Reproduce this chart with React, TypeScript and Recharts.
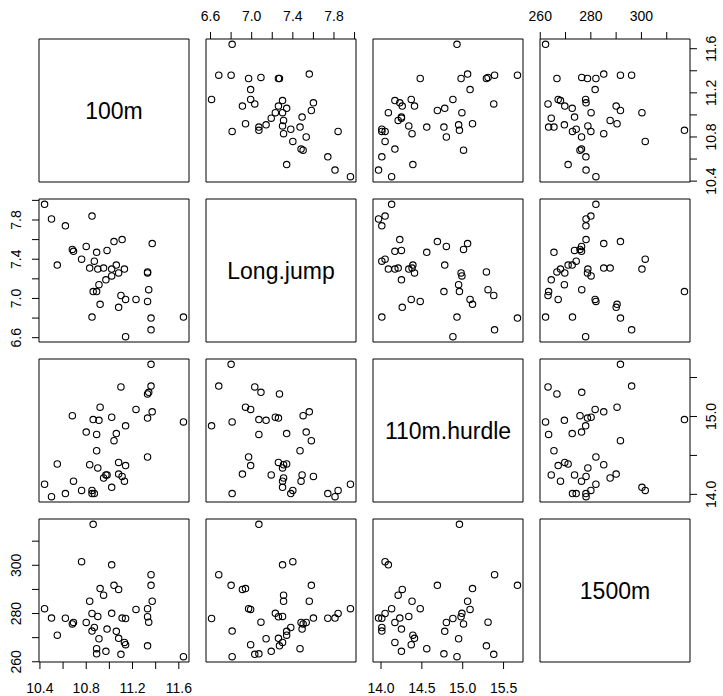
import React from "react";
import { ScatterChart, Scatter, XAxis, YAxis, ReferenceArea } from "recharts";

// decathlon athletes (41), values
const athletes = [
  "SEBRLE", "CLAY", "KARPOV", "BERNARD", "YURKOV", "WARNERS", "ZSIVOCZKY", "McMULLEN",
  "MARTINEAU", "HERNU", "BARRAS", "NOOL", "BOURGUIGNON", "Sebrle", "Clay", "Karpov",
  "Macey", "Warners", "Zsivoczky", "Hernu", "Nool", "Bernard", "Schwarzl", "Pogorelov",
  "Schoenbeck", "Barras", "Smith", "Averyanov", "Ojaniemi", "Smirnov", "Qi", "Drews",
  "Parkhomenko", "Terek", "Gomez", "Turi", "Lorenzo", "Karlivans", "Korkizoglou", "Uldal",
  "Casarsa",
];
const sprint100 = [
  11.04, 10.76, 11.02, 11.02, 11.34, 11.11, 11.13, 10.83, 11.64, 11.37, 11.33, 11.33,
  11.36, 10.85, 10.44, 10.5, 10.89, 10.62, 10.91, 10.97, 10.8, 10.69, 10.98, 10.95,
  10.9, 11.14, 10.85, 10.55, 10.68, 10.89, 11.06, 10.87, 11.14, 10.92, 11.08, 11.08,
  11.1, 11.33, 10.86, 11.23, 11.36,
];
const longJump = [
  7.58, 7.4, 7.3, 7.23, 7.09, 7.6, 7.3, 7.31, 6.81, 7.56, 6.97, 7.27,
  6.8, 7.84, 7.96, 7.81, 7.47, 7.74, 7.14, 7.19, 7.53, 7.48, 7.49, 7.31,
  7.3, 6.99, 6.81, 7.34, 7.5, 7.07, 7.34, 7.38, 6.61, 6.94, 7.26, 6.91,
  7.03, 7.26, 7.07, 6.99, 6.68,
];
const hurdle110 = [
  14.69, 14.05, 14.09, 14.99, 15.31, 14.23, 14.17, 14.38, 14.93, 15.06, 14.48, 15.29,
  15.67, 14.05, 14.13, 13.97, 14.56, 14.01, 14.95, 14.25, 14.8, 14.17, 14.25, 14.21,
  14.34, 14.37, 14.01, 14.39, 15.01, 14.77, 14.78, 14.01, 14.88, 15.12, 14.41, 14.26,
  15.38, 14.98, 14.96, 15.09, 15.39,
];
const run1500 = [
  291.7, 301.5, 300.2, 280.1, 276.4, 278.1, 268.0, 285.1, 262.1, 285.1, 282.0, 266.6,
  291.7, 280.01, 282.0, 278.11, 265.42, 278.05, 269.54, 264.35, 276.33, 276.31, 273.56, 287.63,
  278.82, 267.09, 272.74, 271.02, 275.71, 263.31, 272.63, 274.21, 277.94, 290.36, 269.7, 290.01,
  263.08, 278.67, 317.0, 281.7, 296.12,
];

const varNames = ["100m", "Long.jump", "110m.hurdle", "1500m"];

const ticks100 = [10.4, 10.6, 10.8, 11.0, 11.2, 11.4, 11.6];
const ticksLJ = [6.6, 6.8, 7.0, 7.2, 7.4, 7.6, 7.8, 8.0];
const ticksHurdle = [14.0, 14.5, 15.0, 15.5];
const ticks1500 = [260, 270, 280, 290, 300, 310];

const labels100 = [10.4, 10.8, 11.2, 11.6];
const labelsLJ = [6.6, 7.0, 7.4, 7.8];
const labelsHurdleBottom = [14.0, 14.5, 15.0, 15.5];
const labelsHurdleRight = [14.0, 15.0];
const labels1500 = [260, 280, 300];

// R-style range: data range extended 4% each side
function rRange(v: number[]): [number, number] {
  const lo = Math.min(...v);
  const hi = Math.max(...v);
  const pad = (hi - lo) * 0.04;
  return [lo - pad, hi + pad];
}

const vars = [
  { name: varNames[0], data: sprint100, ticks: ticks100, labA: labels100, labB: labels100, dec: 1 },
  { name: varNames[1], data: longJump, ticks: ticksLJ, labA: labelsLJ, labB: labelsLJ, dec: 1 },
  { name: varNames[2], data: hurdle110, ticks: ticksHurdle, labA: labelsHurdleBottom, labB: labelsHurdleRight, dec: 1 },
  { name: varNames[3], data: run1500, ticks: ticks1500, labA: labels1500, labB: labels1500, dec: 0 },
];

const PW = 150;
const PH = 143;
const M = 40;
const AX = 30;
const colX = [39, 206, 373, 540];
const rowY = [39, 199, 359, 519];
const FONT = "'Liberation Sans', Arial, Helvetica, sans-serif";

const has = (arr: number[], v: number) => arr.some((a) => Math.abs(a - v) < 1e-9);

function makeTick(side: string, labels: number[], dec: number) {
  return (props: any) => {
    const v = props.payload.value;
    if (!has(labels, v)) return <g />;
    let cx = props.x;
    let cy = props.y;
    let rot = false;
    if (side === "top") cy = M - 23;
    if (side === "bottom") cy = M + PH + 26;
    if (side === "left") { cx = M - 23; rot = true; }
    if (side === "right") { cx = M + PW + 21; rot = true; }
    return (
      <text
        x={cx}
        y={cy}
        textAnchor="middle"
        dominantBaseline="central"
        fontSize={14}
        fill="#000"
        transform={rot ? `rotate(-90 ${cx} ${cy})` : undefined}
      >
        {v.toFixed(dec)}
      </text>
    );
  };
}

const ring = (p: any) => (
  <circle cx={p.cx} cy={p.cy} r={3.2} fill="none" stroke="#000" strokeWidth={1.1} />
);

function Panel({ i, j }: { i: number; j: number }) {
  const xv = vars[j];
  const yv = vars[i];
  const xDom = rRange(xv.data);
  const yDom = rRange(yv.data);
  const diag = i === j;

  const showTop = i === 0 && j % 2 === 1;
  const showBottom = i === 3 && j % 2 === 0;
  const showLeft = j === 0 && i % 2 === 1;
  const showRight = j === 3 && i % 2 === 0;
  const showX = showTop || showBottom;
  const showY = showLeft || showRight;
  const xSide = showTop ? "top" : "bottom";
  const ySide = showRight ? "right" : "left";

  const margin = {
    top: xSide === "top" ? M - AX : M,
    bottom: xSide === "bottom" ? M - AX : M,
    left: ySide === "left" ? M - AX : M,
    right: ySide === "right" ? M - AX : M,
  };

  const pts = xv.data.map((_, k) => ({ x: xv.data[k], y: yv.data[k], name: athletes[k] }));

  return (
    <div style={{ position: "absolute", left: colX[j] - M, top: rowY[i] - M }}>
      <ScatterChart width={PW + 2 * M} height={PH + 2 * M} margin={margin}>
        <XAxis
          type="number"
          dataKey="x"
          domain={xDom}
          allowDataOverflow
          ticks={xv.ticks}
          interval={0}
          orientation={xSide as any}
          height={AX}
          axisLine={false}
          tickLine={showX ? { stroke: "#000", strokeWidth: 1 } : false}
          tickSize={7}
          tick={showX ? makeTick(xSide, xv.labA, xv.dec) : false}
        />
        <YAxis
          type="number"
          dataKey="y"
          domain={yDom}
          allowDataOverflow
          ticks={yv.ticks}
          interval={0}
          orientation={ySide as any}
          width={AX}
          axisLine={false}
          tickLine={showY ? { stroke: "#000", strokeWidth: 1 } : false}
          tickSize={7}
          tick={showY ? makeTick(ySide, showRight ? yv.labB : yv.labA, yv.dec) : false}
        />
        <ReferenceArea
          x1={xDom[0]}
          x2={xDom[1]}
          y1={yDom[0]}
          y2={yDom[1]}
          fill="none"
          stroke="#000"
          strokeWidth={1}
          ifOverflow="visible"
          label={diag ? { value: xv.name, position: "center", fontSize: 23, fill: "#000" } : undefined}
        />
        {!diag && <Scatter data={pts} isAnimationActive={false} shape={ring} />}
      </ScatterChart>
    </div>
  );
}

export default function App() {
  const cells = [];
  for (let i = 0; i < 4; i++) {
    for (let j = 0; j < 4; j++) {
      cells.push(<Panel key={`${i}-${j}`} i={i} j={j} />);
    }
  }
  return (
    <div
      style={{
        position: "absolute",
        left: 0,
        top: 0,
        width: 723,
        height: 696,
        background: "#fff",
        fontFamily: FONT,
      }}
    >
      {cells}
    </div>
  );
}
